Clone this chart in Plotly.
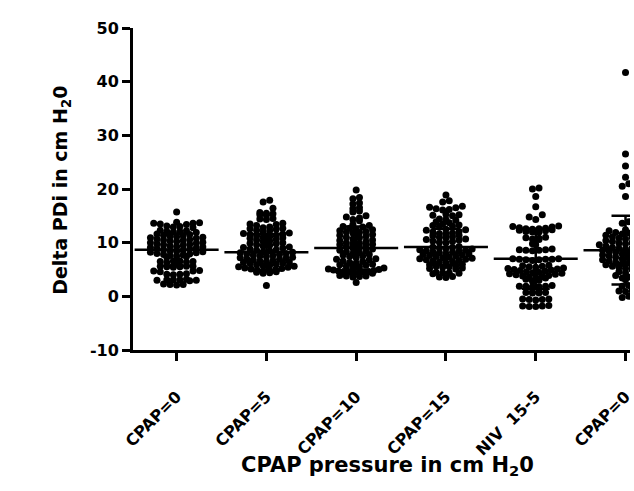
import numpy as np
import plotly.graph_objects as go

categories = ["CPAP=0", "CPAP=5", "CPAP=10", "CPAP=15", "NIV\u00a0 15-5", "CPAP=0"]

cpap0_a = [15.7,
    13.7, 13.6, 13.5, 13.6, 13.8, 13.4,
    13.0, 12.9, 13.1, 12.8,
    12.2, 12.1, 12.0, 12.3, 11.9, 12.1,
    11.6, 11.5, 11.4, 11.3, 11.2, 11.1, 11.0, 10.9, 10.8,
    10.7, 10.6, 10.5, 10.4, 10.3, 10.2, 10.1, 10.0, 9.9,
    9.8, 9.7, 9.6, 9.5, 9.4, 9.3, 9.2, 9.1, 9.0, 8.9,
    8.8, 8.7, 8.6, 8.5, 8.4, 8.3, 8.2, 8.1, 8.0,
    7.9, 7.8, 7.7, 7.6, 7.5, 7.4, 7.3,
    6.6, 6.5, 6.4, 6.6, 6.5, 6.3,
    5.7, 5.6, 5.5, 5.6, 5.7, 5.5, 5.4, 5.6,
    4.8, 4.7, 4.6, 4.7,
    4.1, 4.0, 4.2, 4.1,
    3.1, 3.0, 3.2, 3.1, 2.9, 3.0, 3.1,
    2.2, 2.3, 2.1, 2.2]

cpap5 = [17.9, 17.6,
    16.4,
    15.6, 15.5, 15.4, 15.2, 15.1,
    14.5, 14.4, 14.3,
    13.6, 13.5, 13.4, 13.2,
    12.9, 12.8, 12.7, 12.6, 12.5, 12.3, 12.2, 12.0,
    11.8, 11.7, 11.6, 11.5, 11.4, 11.3, 11.1, 11.0, 10.9, 10.8,
    10.6, 10.5, 10.3, 10.2, 10.0, 9.9, 9.8, 9.6, 9.5,
    9.4, 9.2, 9.1, 9.0, 8.8, 8.7, 8.6, 8.5, 8.3,
    8.2, 8.1, 8.0, 7.9, 7.8, 7.7, 7.6, 7.5, 7.4, 7.3,
    7.2, 7.1, 7.0, 6.9, 6.8, 6.7, 6.6, 6.5, 6.4, 6.3,
    6.2, 6.1, 6.0, 5.9, 5.8, 5.7, 5.6, 5.5, 5.4, 5.3,
    5.2, 5.1, 5.0, 4.9, 4.8, 4.7, 4.6, 4.5, 4.4, 4.3,
    2.0]

cpap10 = [19.8,
    18.4, 18.2,
    17.4, 17.2,
    16.5, 16.3,
    15.9, 15.7,
    15.0, 14.8, 14.6, 14.3, 14.1,
    13.4, 13.2, 13.0, 12.9, 12.7, 12.5, 12.4, 12.2, 12.1, 12.0, 11.9, 11.8,
    11.5, 11.4, 11.2, 11.0, 10.9, 10.7, 10.5, 10.4, 10.2, 10.0, 9.9, 9.8, 9.7, 9.6, 9.5,
    9.3, 9.1, 9.0, 8.8, 8.6, 8.5, 8.3, 8.1, 8.0, 7.8,
    7.7, 7.5, 7.4, 7.2, 7.0, 6.9, 6.8, 6.6, 6.5, 6.3,
    6.2, 6.0, 5.9, 5.8, 5.6, 5.5, 5.4, 5.3, 5.1, 5.0,
    4.9, 4.8, 4.7, 4.6, 4.5, 4.4, 4.4, 4.3, 4.5, 4.6,
    3.9, 3.8, 3.7, 3.8, 3.6,
    2.6]

cpap15 = [18.9,
    17.8, 17.6,
    16.8, 16.6, 16.5, 16.3, 16.2, 16.1,
    15.3, 15.2, 15.1, 15.0,
    14.4, 14.3, 14.2, 13.9, 13.7, 13.5, 13.3, 13.2, 13.1, 13.0,
    12.5, 12.4, 12.3, 12.1, 12.0, 11.8, 11.7, 11.6, 11.4, 11.3,
    11.1, 11.0, 10.9, 10.7, 10.6, 10.5, 10.3, 10.2, 10.1, 10.0,
    9.3, 9.2, 9.1, 9.0, 8.9, 8.8, 8.7, 8.6, 8.5, 8.4,
    8.3, 8.2, 8.1, 8.0, 7.9, 7.8, 7.7, 7.6, 7.5, 7.4,
    7.3, 7.2, 7.1, 7.0, 6.9, 6.8, 6.7, 6.6, 6.5, 6.4,
    6.2, 6.0, 5.9, 5.8, 5.6, 5.5, 5.4, 5.3, 5.2, 5.1,
    4.5, 4.4, 4.3, 4.4, 4.2, 3.7, 3.6, 3.5]

niv15_5 = [20.2, 20.0,
    18.6,
    16.7,
    15.2, 14.8, 14.3,
    13.1, 13.0, 12.9, 12.8, 12.7, 12.6, 12.6, 12.5, 12.4, 12.3, 12.2, 12.1, 12.0, 12.0,
    11.0, 10.9, 10.8, 10.7, 10.6,
    9.8, 9.6,
    8.8, 8.7, 8.6, 8.7, 8.5, 8.6,
    7.0, 6.9, 6.8, 7.0, 6.9, 6.8, 6.7, 6.9,
    5.8, 5.7, 5.6, 5.5, 5.4, 5.3, 5.2, 5.1, 5.0, 4.9,
    4.8, 4.7, 4.6, 4.5, 4.4, 4.3, 4.2, 4.1, 4.0, 3.9,
    3.8, 3.7, 3.6, 3.5, 3.4, 3.2, 3.0, 2.8,
    1.9, 1.9, 1.8, 2.0, 1.8, 1.9,
    0.7, 0.8, 0.6, 0.7, 0.6, 0.8,
    -0.6, -0.5, -0.7, -0.6, -0.5,
    -1.8, -1.9, -1.7, -1.8, -1.9]

cpap0_b = [41.7, 26.5, 24.3, 22.2, 21.0, 20.5, 18.6,
    13.9, 13.6,
    12.4, 12.3, 12.2, 12.0, 11.9, 11.8, 11.6, 11.5, 11.4, 11.2,
    11.1, 11.0, 10.8, 10.7, 10.6, 10.4, 10.3, 10.2, 10.0, 9.9,
    9.8, 9.7, 9.6, 9.5, 9.4, 9.2, 9.1, 9.0, 8.9, 8.8,
    8.7, 8.6, 8.5, 8.4, 8.3, 8.2, 8.0, 7.9, 7.8, 7.7,
    7.6, 7.5, 7.4, 7.3, 7.2, 7.0, 6.9, 6.8, 6.7, 6.6,
    6.4, 6.3, 6.2, 6.1, 6.0, 5.9, 5.8, 5.6, 5.5, 5.4,
    5.2, 5.0, 4.6, 4.4, 4.2, 3.9, 3.6, 3.4, 3.1,
    2.0, 1.9, 1.1, 1.0, 0.9, 0.0, -0.2]

groups = [cpap0_a, cpap5, cpap10, cpap15, niv15_5, cpap0_b]

# mean and SD
means = [8.7, 8.2, 9.0, 9.2, 7.0, 8.6]
sds = [3.0, 3.4, 4.0, 3.4, 5.6, 6.4]

y_tick_vals = [-10, 0, 10, 20, 30, 40, 50]
y_tick_text = ["-10", "0", "10", "20", "30", "40", "50"]

# ---- layout geometry ----
W, H = 634, 491
ML, MR, MT, MB = 133, 0, 28, 140.5
X_RANGE = [-0.486, 5.05]
px_per_cat = (W - ML - MR) / (X_RANGE[1] - X_RANGE[0])


def swarm_offsets(vals, bin_h=0.9, step_px=6.6, max_half_px=28.0):
    v = np.asarray(vals, dtype=float)
    bins = np.floor((v - v.min()) / bin_h).astype(int)
    off = np.zeros(len(v))
    for b in np.unique(bins):
        idx = np.where(bins == b)[0]
        idx = idx[np.argsort(v[idx])]
        n = len(idx)
        if n == 1:
            continue
        sp = min(step_px, 2 * max_half_px / (n - 1))
        slots = (np.arange(n) - (n - 1) / 2) * sp
        order = sorted(range(n), key=lambda k: (abs(slots[k]), slots[k]))
        for j, k in enumerate(order):
            off[idx[j]] = slots[k]
    return off / px_per_cat


FONT = "DejaVu Sans"
fig = go.Figure()

for i, vals in enumerate(groups):
    xo = swarm_offsets(vals)
    fig.add_trace(go.Scatter(
        x=i + xo, y=vals, mode="markers",
        marker=dict(size=7, color="black", line=dict(width=0)),
        showlegend=False, hoverinfo="skip"))

fig.add_trace(go.Scatter(
    x=list(range(len(categories))), y=means, mode="markers",
    marker=dict(symbol="line-ew", size=60, color="black",
                line=dict(width=2.5, color="black")),
    error_y=dict(type="data", array=sds, visible=True, color="black",
                 thickness=2.5, width=14),
    showlegend=False, hoverinfo="skip"))

fig.update_layout(
    width=W, height=H,
    margin=dict(l=ML, r=MR, t=MT, b=MB, pad=0),
    paper_bgcolor="white", plot_bgcolor="white",
    font=dict(family=FONT, color="black"),
    xaxis=dict(
        range=X_RANGE, tickmode="array",
        tickvals=list(range(len(categories))), ticktext=categories,
        tickangle=-45, tickfont=dict(family=FONT, size=16, weight="bold", color="black"),
        ticklabeloverflow="allow",
        showline=True, linecolor="black", linewidth=3,
        ticks="outside", ticklen=8, tickwidth=2.5, tickcolor="black",
        ticklabelstandoff=20,
        showgrid=False, zeroline=False),
    yaxis=dict(
        range=[-10, 50], tickmode="array", tickvals=y_tick_vals, ticktext=y_tick_text,
        tickfont=dict(family=FONT, size=16, weight="bold", color="black"),
        showline=True, linecolor="black", linewidth=3,
        ticks="outside", ticklen=8, tickwidth=2.5, tickcolor="black",
        showgrid=False, zeroline=False),
    annotations=[
        dict(text="Delta PDi in cm H<sub>2</sub>0", textangle=-90,
             xref="paper", yref="paper",
             x=(61 - ML) / (W - ML - MR), y=(H - MB - 190.5) / (H - MB - MT),
             xanchor="center", yanchor="middle", showarrow=False,
             font=dict(family=FONT, size=19, weight="bold", color="black")),
        dict(text="CPAP pressure in cm H<sub>2</sub>0",
             xref="paper", yref="paper",
             x=(389.5 - ML) / (W - ML - MR), y=(H - MB - 467) / (H - MB - MT),
             xanchor="center", yanchor="middle", showarrow=False,
             font=dict(family=FONT, size=21, weight="bold", color="black")),
    ],
)

fig.write_html("out.html", config={"displayModeBar": False})
